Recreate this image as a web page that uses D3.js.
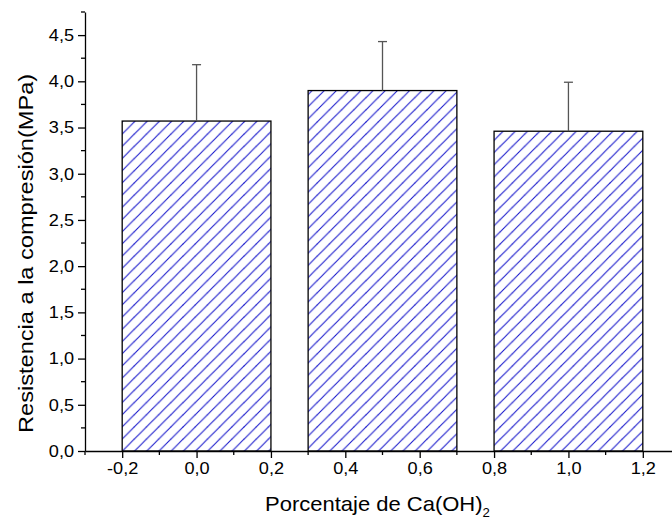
<!DOCTYPE html>
<html><head><meta charset="utf-8">
<script src="https://cdn.jsdelivr.net/npm/d3@7"></script>
<style>body{margin:0;background:#fff;} svg{display:block;}</style>
</head><body>
<script>
// Data
const barStart = [-0.2, 0.3, 0.8];
const barEnd = [0.2, 0.7, 1.2];
const values = [3.57, 3.90, 3.46];
const errors = [0.61, 0.53, 0.53];
const xTicks = [-0.2, 0.0, 0.2, 0.4, 0.6, 0.8, 1.0, 1.2];
const xMinor = [-0.3, -0.1, 0.1, 0.3, 0.5, 0.7, 0.9, 1.1];
const yTicks = [0, 0.5, 1.0, 1.5, 2.0, 2.5, 3.0, 3.5, 4.0, 4.5];
const yMinor = [0.25, 0.75, 1.25, 1.75, 2.25, 2.75, 3.25, 3.75, 4.25, 4.75];
const xTitle = "Porcentaje de Ca(OH)";
const xTitleSub = "2";
const yTitle = "Resistencia a la compresión(MPa)";

const W = 672, H = 529;
const svg = d3.select("body").append("svg").attr("width", W).attr("height", H);
const x = d3.scaleLinear().domain([-0.3, 1.3]).range([85, 680]);
const y = d3.scaleLinear().domain([0, 4.75]).range([451, 12]);
const fmt = v => d3.format(".1f")(v).replace(".", ",").replace("−", "-");
const font = "'Liberation Sans', Arial, sans-serif";

const defs = svg.append("defs");
const pat = defs.append("pattern").attr("id", "hatch").attr("patternUnits", "userSpaceOnUse")
  .attr("width", 12.2).attr("height", 12.2);
pat.append("rect").attr("width", 12.2).attr("height", 12.2).attr("fill", "#fff");
pat.append("path").attr("d", "M-3,3.05 L3.05,-3 M0,12.2 L12.2,0 M9.15,15.2 L15.2,9.15")
  .attr("stroke", "#1a1acc").attr("stroke-width", 1.1);

// bars
svg.append("g").selectAll("rect.bar").data(values).join("rect").attr("class", "bar")
  .attr("x", (d, i) => x(barStart[i])).attr("width", (d, i) => x(barEnd[i]) - x(barStart[i]))
  .attr("y", d => y(d)).attr("height", d => y(0) - y(d))
  .attr("fill", "url(#hatch)").attr("stroke", "#000").attr("stroke-width", 1.3);

// error bars
const eg = svg.append("g").attr("stroke", "#555").attr("stroke-width", 1.3);
values.forEach((v, i) => {
  const cx = x((barStart[i] + barEnd[i]) / 2);
  eg.append("line").attr("x1", cx).attr("x2", cx).attr("y1", y(v)).attr("y2", y(v + errors[i]));
  eg.append("line").attr("x1", cx - 4.5).attr("x2", cx + 4.5).attr("y1", y(v + errors[i])).attr("y2", y(v + errors[i]));
});

// y axis
const ya = svg.append("g").attr("transform", `translate(${x(-0.3)},0)`)
  .call(d3.axisLeft(y).tickValues(yTicks).tickFormat(fmt).tickSize(7).tickSizeOuter(0).tickPadding(4));
ya.append("g").selectAll("line").data(yMinor).join("line")
  .attr("x1", 0).attr("x2", -4).attr("y1", d => y(d)).attr("y2", d => y(d)).attr("stroke", "#000").attr("stroke-width", 1.3);
ya.selectAll(".tick text").attr("x", -11 / 1.1).attr("transform", "scale(1.1,1)");

// x axis
const xa = svg.append("g").attr("transform", `translate(0,${y(0)})`)
  .call(d3.axisBottom(x).tickValues(xTicks).tickFormat(fmt).tickSize(7).tickSizeOuter(0).tickPadding(4));
xa.append("g").selectAll("line").data(xMinor).join("line")
  .attr("y1", 0).attr("y2", 4).attr("x1", d => x(d)).attr("x2", d => x(d)).attr("stroke", "#000").attr("stroke-width", 1.3);
xa.selectAll(".tick text").attr("transform", "scale(1.1,1)");

svg.selectAll(".domain").attr("stroke", "#000").attr("stroke-width", 1.3);
svg.selectAll(".tick line").attr("stroke", "#000").attr("stroke-width", 1.3);
svg.selectAll(".tick text").attr("font-family", font).attr("font-size", 16.5).attr("fill", "#000");

// titles
const xt = svg.append("g").attr("transform", "translate(265,511) scale(1.1,1)")
  .append("text").attr("x", 0).attr("y", 0).attr("text-anchor", "start")
  .attr("font-family", font).attr("font-size", 20).attr("fill", "#000");
xt.append("tspan").text(xTitle);
xt.append("tspan").attr("dy", 6).attr("font-size", 12).text(xTitleSub);

svg.append("g").attr("transform", "translate(33,433) rotate(-90) scale(1.18,1)")
  .append("text").attr("x", 0).attr("y", 0).attr("text-anchor", "start")
  .attr("font-family", font).attr("font-size", 20).attr("fill", "#000")
  .text(yTitle);
</script>
</body></html>
